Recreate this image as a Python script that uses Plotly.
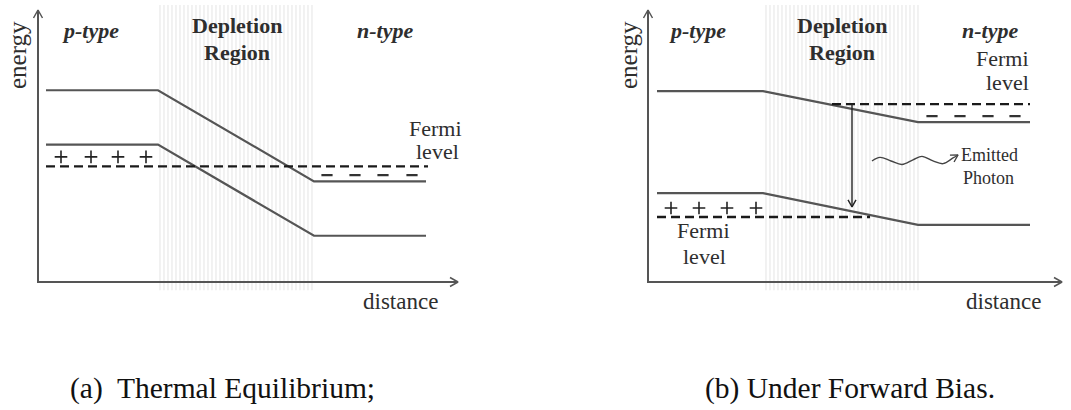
import plotly.graph_objects as go

W, H = 1071, 410

# ---------------- data (distance units, energy units) ----------------
# Panel (a): thermal equilibrium
A_KNOTS = [0.2, 3.0, 6.9, 9.7]          # start, depletion start, depletion end, end
A_CB = [7.05, 7.05, 3.7, 3.7]           # conduction band edge
A_VB = [5.05, 5.05, 1.7, 1.7]           # valence band edge
A_FERMI_X = [0.2, 9.75]
A_FERMI_E = [4.25, 4.25]
A_PLUS_X = [0.575, 1.325, 2.0, 2.7]
A_PLUS_E = [4.6, 4.6, 4.6, 4.6]
A_MINUS_X = [7.225, 7.925, 8.625, 9.35]
A_MINUS_E = [3.93, 3.93, 3.93, 3.93]
A_DEPL_X = [2.975, 6.925]

# Panel (b): under forward bias
B_KNOTS = [0.225, 2.875, 6.75, 9.55]
B_CB = [7.02, 7.02, 5.88, 5.88]
B_VB = [3.27, 3.27, 2.10, 2.10]
B_FN_X = [4.6, 9.55]
B_FN_E = [6.54, 6.54]
B_FP_X = [0.225, 5.55]
B_FP_E = [2.39, 2.39]
B_PLUS_X = [0.575, 1.275, 1.975, 2.7]
B_PLUS_E = [2.72, 2.72, 2.72, 2.72]
B_MINUS_X = [7.1, 7.8, 8.5, 9.175]
B_MINUS_E = [6.10, 6.10, 6.10, 6.10]
B_DEPL_X = [2.875, 6.8]
B_TRANS_X = [5.1, 5.1]
B_TRANS_E = [6.54, 2.76]
PHOTON_X = [5.6, 5.8, 6.075, 6.35, 6.625, 6.85, 7.125, 7.375, 7.625, 7.75]
PHOTON_E = [4.45, 4.58, 4.45, 4.32, 4.49, 4.62, 4.45, 4.35, 4.56, 4.67]

AXIS_TIP_A = (10.5, 10.0)
AXIS_TIP_B = (10.35, 10.0)
DEPL_E = [-0.3, 10.18]

# ---------------- styling ----------------
XR = [-0.2, 10.55]
YR = [-0.5, 10.3]
PX_X = 40.0      # pixels per distance unit
PX_Y = 27.2      # pixels per energy unit
BAND = dict(color="#555555", width=2.2)
FERMI = dict(color="#1a1a1a", width=2.4, dash="9px,5px")
AXC = dict(color="#555555", width=2)
SERIF = "Liberation Serif"
TXT = "#2e2e2e"

fig = go.Figure()


def chevron(xt, yt, dx, dy, L=8, w=4.5):
    """open arrow head: tip in data coords, direction in pixel space (y down)"""
    n = (dx * dx + dy * dy) ** 0.5
    dx, dy = dx / n, dy / n
    px, py = -dy, dx
    pts = []
    for s in (1, -1):
        ox = -L * dx + s * w * px
        oy = -L * dy + s * w * py
        pts.append((xt + ox / PX_X, yt - oy / PX_Y))
    xs = [pts[0][0], xt, pts[1][0]]
    ys = [pts[0][1], yt, pts[1][1]]
    return xs, ys


def add(tr, k):
    tr.xaxis = "x" if k == 1 else "x2"
    tr.yaxis = "y" if k == 1 else "y2"
    fig.add_trace(tr)


def panel(k, knots, cb, vb, depl, tip, plus_x, plus_e, minus_x, minus_e):
    # depletion hatching
    add(go.Scatter(x=[depl[0], depl[1], depl[1], depl[0], depl[0]],
                   y=[DEPL_E[0], DEPL_E[0], DEPL_E[1], DEPL_E[1], DEPL_E[0]],
                   mode="none", fill="toself", fillcolor="rgba(0,0,0,0)",
                   fillpattern=dict(shape="|", size=4, solidity=0.28,
                                    fgcolor="#cfcfcf", bgcolor="white"),
                   hoverinfo="skip"), k)
    # axes
    add(go.Scatter(x=[0, 0, tip[0]], y=[tip[1], 0, 0], mode="lines", line=AXC,
                   hoverinfo="skip"), k)
    xs, ys = chevron(0, tip[1], 0, -1)
    add(go.Scatter(x=xs, y=ys, mode="lines", line=dict(color="#555", width=1.5)), k)
    xs, ys = chevron(tip[0], 0, 1, 0)
    add(go.Scatter(x=xs, y=ys, mode="lines", line=dict(color="#555", width=1.5)), k)
    # bands
    add(go.Scatter(x=knots, y=cb, mode="lines", line=BAND), k)
    add(go.Scatter(x=knots, y=vb, mode="lines", line=BAND), k)
    # charges
    add(go.Scatter(x=plus_x, y=plus_e, mode="markers",
                   marker=dict(symbol="cross-thin", size=9,
                               line=dict(color="#222", width=1.6))), k)
    add(go.Scatter(x=minus_x, y=minus_e, mode="markers",
                   marker=dict(symbol="line-ew", size=8,
                               line=dict(color="#333", width=2.4))), k)


panel(1, A_KNOTS, A_CB, A_VB, A_DEPL_X, AXIS_TIP_A, A_PLUS_X, A_PLUS_E, A_MINUS_X, A_MINUS_E)
panel(2, B_KNOTS, B_CB, B_VB, B_DEPL_X, AXIS_TIP_B, B_PLUS_X, B_PLUS_E, B_MINUS_X, B_MINUS_E)

# Fermi levels
add(go.Scatter(x=A_FERMI_X, y=A_FERMI_E, mode="lines", line=FERMI), 1)
add(go.Scatter(x=B_FN_X, y=B_FN_E, mode="lines", line=FERMI), 2)
add(go.Scatter(x=B_FP_X, y=B_FP_E, mode="lines", line=FERMI), 2)

# transition arrow
add(go.Scatter(x=B_TRANS_X, y=B_TRANS_E, mode="lines", line=dict(color="#222", width=1.4)), 2)
xs, ys = chevron(B_TRANS_X[1], B_TRANS_E[1], 0, 1, L=7, w=4)
add(go.Scatter(x=xs, y=ys, mode="lines", line=dict(color="#222", width=1.4)), 2)

# emitted photon squiggle
add(go.Scatter(x=PHOTON_X, y=PHOTON_E, mode="lines",
               line=dict(color="#444", width=1.4, shape="spline")), 2)
xs, ys = chevron(PHOTON_X[-1], PHOTON_E[-1], 5, -3, L=7, w=4)
add(go.Scatter(x=xs, y=ys, mode="lines", line=dict(color="#444", width=1.4)), 2)


# ---------------- text ----------------
def P(px, py):
    return px / W, (H - py) / H


ann = []


def label(px, py, text, size=22, bold=False, italic=False, angle=0,
          xanchor="center", align="center", color=TXT, family=SERIF):
    x, y = P(px, py)
    ann.append(dict(x=x, y=y, xref="paper", yref="paper", text=text, showarrow=False,
                    xanchor=xanchor, yanchor="middle", align=align, textangle=angle,
                    font=dict(family=family, size=size, color=color,
                              weight="bold" if bold else "normal",
                              style="italic" if italic else "normal")))


# panel (a)
label(17, 55, "energy", size=25, angle=-90)
label(90, 31, "p-type", bold=True, italic=True)
label(237, 25, "Depletion", bold=True)
label(237, 52, "Region", bold=True)
label(385, 31, "n-type", bold=True, italic=True)
label(435, 128, "Fermi")
label(437, 151, "level")
label(400, 301, "distance", size=23)
# panel (b)
label(628, 55, "energy", size=25, angle=-90)
label(697, 31, "p-type", bold=True, italic=True)
label(842, 25, "Depletion", bold=True)
label(842, 52, "Region", bold=True)
label(990, 31, "n-type", bold=True, italic=True)
label(1031, 58, "Fermi", xanchor="right")
label(1031, 83, "level", xanchor="right")
label(989, 155, "Emitted", size=18)
label(988, 178, "Photon", size=18)
label(703, 230, "Fermi")
label(704, 256, "level")
label(1003, 301, "distance", size=23)
# captions
label(222, 388, "(a)\u00a0 Thermal Equilibrium;", size=29.5, color="#111")
label(850, 388, "(b) Under Forward Bias.", size=29.5, color="#111")

ax_common = dict(range=XR, showgrid=False, zeroline=False, showticklabels=False,
                 ticks="", showline=False, fixedrange=True)
ay_common = dict(range=YR, showgrid=False, zeroline=False, showticklabels=False,
                 ticks="", showline=False, fixedrange=True)
ydom = [(H - 295.6) / H, (H - 1.84) / H]

fig.update_layout(
    width=W, height=H, margin=dict(l=0, r=0, t=0, b=0),
    paper_bgcolor="white", plot_bgcolor="rgba(0,0,0,0)",
    showlegend=False,
    xaxis=dict(domain=[30 / W, 460 / W], **ax_common),
    yaxis=dict(domain=ydom, **ay_common),
    xaxis2=dict(domain=[640 / W, 1070 / W], anchor="y2", **ax_common),
    yaxis2=dict(domain=ydom, anchor="x2", **ay_common),
    annotations=ann,
)

fig.write_html("out.html", config=dict(displayModeBar=False))
